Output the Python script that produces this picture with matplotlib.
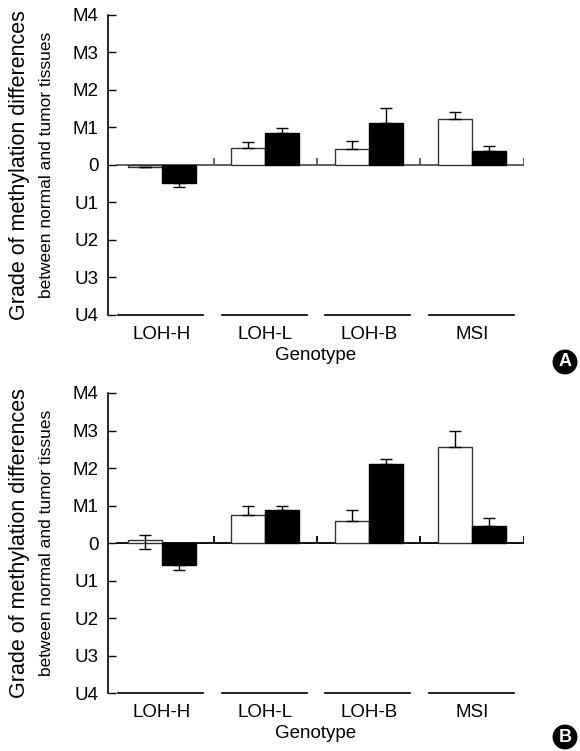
import numpy as np
import matplotlib
matplotlib.use("Agg")
import matplotlib.pyplot as plt

plt.rcParams['font.family'] = ['Liberation Sans', 'DejaVu Sans']

groups = ['LOH-H', 'LOH-L', 'LOH-B', 'MSI']
grade_ticks = [4, 3, 2, 1, 0, -1, -2, -3, -4]
grade_labels = ['M4', 'M3', 'M2', 'M1', '0', 'U1', 'U2', 'U3', 'U4']

# panel A
a_white = [-0.05, 0.46, 0.42, 1.23]
a_white_lo = [0.0, 0.0, 0.0, 0.0]
a_white_hi = [0.0, 0.16, 0.23, 0.17]
a_black = [-0.49, 0.85, 1.11, 0.38]
a_black_lo = [0.09, 0.0, 0.0, 0.0]
a_black_hi = [0.0, 0.14, 0.41, 0.13]

# panel B
b_white = [0.08, 0.75, 0.60, 2.55]
b_white_lo = [0.23, 0.0, 0.0, 0.0]
b_white_hi = [0.13, 0.23, 0.28, 0.45]
b_black = [-0.59, 0.88, 2.11, 0.46]
b_black_lo = [0.13, 0.0, 0.0, 0.0]
b_black_hi = [0.0, 0.11, 0.12, 0.20]


def draw_panel(ax, white, wlo, whi, black, blo, bhi, zero_color):
    x = np.arange(len(groups))
    w = 0.33
    ax.bar(x - w / 2, white, w, color='white', edgecolor='#333333', linewidth=1.0, zorder=2)
    ax.bar(x + w / 2, black, w, color='black', edgecolor='black', linewidth=1.0, zorder=2)
    ax.errorbar(x - w / 2, white, yerr=[wlo, whi], fmt='none', ecolor='black',
                elinewidth=1.0, capsize=4.5, capthick=1.0, zorder=3)
    ax.errorbar(x + w / 2, black, yerr=[blo, bhi], fmt='none', ecolor='black',
                elinewidth=1.0, capsize=4.5, capthick=1.0, zorder=3)

    # baseline with group separators
    ax.plot([-0.43, len(groups) - 0.5], [0, 0], color=zero_color, lw=1.3, zorder=1)
    ax.vlines(x + 0.5, 0, 0.19, color=zero_color, lw=1.3, zorder=1)

    # group underlines
    for xi in x:
        ax.plot([xi - 0.42, xi + 0.40], [-4, -4], color='black', lw=1.2, clip_on=False)

    ax.set_xlim(-0.52, len(groups) - 0.5)
    ax.set_ylim(-4, 4)
    ax.set_yticks(grade_ticks)
    ax.set_yticklabels(grade_labels)
    ax.set_xticks(x)
    ax.set_xticklabels(groups)
    ax.tick_params(axis='x', length=0, pad=8, labelsize=13.5)
    ax.tick_params(axis='y', direction='in', length=6, width=1, pad=7, labelsize=13.5)
    for s in ['top', 'right', 'bottom']:
        ax.spines[s].set_visible(False)
    ax.spines['left'].set_linewidth(1.2)
    ax.set_xlabel('Genotype', fontsize=13.5, labelpad=3)

    ax.text(-0.212, 0.5, 'Grade of methylation differences', transform=ax.transAxes,
            rotation=90, ha='center', va='center', fontsize=15.5)
    ax.text(-0.147, 0.5, 'between normal and tumor tissues', transform=ax.transAxes,
            rotation=90, ha='center', va='center', fontsize=12.5)


fig = plt.figure(figsize=(5.8, 7.51), dpi=100)
ax_a = fig.add_axes([0.1862, 0.5806, 0.7172, 0.3995])
ax_b = fig.add_axes([0.1862, 0.0772, 0.7172, 0.3995])

draw_panel(ax_a, a_white, a_white_lo, a_white_hi, a_black, a_black_lo, a_black_hi, '#555555')
draw_panel(ax_b, b_white, b_white_lo, b_white_hi, b_black, b_black_lo, b_black_hi, 'black')

for label, yy in [('A', 1 - 362 / 751), ('B', 1 - 737 / 751)]:
    fig.text(565 / 580, yy, label, ha='center', va='center', color='white',
             fontsize=13, fontweight='bold',
             bbox=dict(boxstyle='circle,pad=0.18', facecolor='black', edgecolor='black'))

fig.savefig('out.png', dpi=100)
